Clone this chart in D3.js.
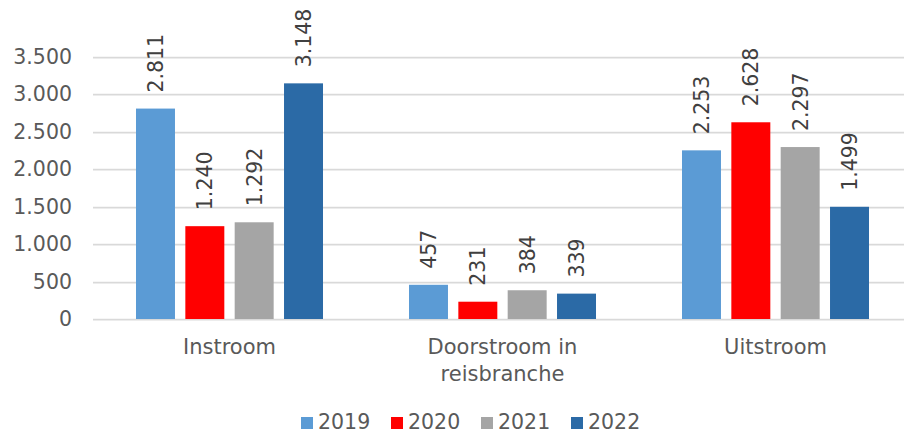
<!DOCTYPE html>
<html>
<head>
<meta charset="utf-8">
<script src="https://cdn.jsdelivr.net/npm/d3@7"></script>
<style>
  html, body { margin: 0; padding: 0; background: #fff; }
  svg { display: block; }
  text { font-family: "DejaVu Sans", Verdana, sans-serif; }
</style>
</head>
<body>
<svg id="chart" width="904" height="433"></svg>
<script>
// Categories, series and values
const categories = ["Instroom", "Doorstroom in\nreisbranche", "Uitstroom"];
const years = ["2019", "2020", "2021", "2022"];
const values2019 = [2811, 457, 2253];
const values2020 = [1240, 231, 2628];
const values2021 = [1292, 384, 2297];
const values2022 = [3148, 339, 1499];
const yTicks = [0, 500, 1000, 1500, 2000, 2500, 3000, 3500];
const colors = ["#5B9BD5", "#FF0000", "#A5A5A5", "#2B6AA6"];

const series = [values2019, values2020, values2021, values2022];

const svg = d3.select("#chart");
const width = 904, height = 433;
const plotLeft = 93, plotRight = 912, plotTop = 57, plotBottom = 319;

// Dutch number format: "." as thousands separator
const nl = d3.formatLocale({ decimal: ",", thousands: ".", grouping: [3], currency: ["€", ""] });
const fmt = nl.format(",d");

const y = d3.scaleLinear().domain([0, 3500]).range([plotBottom, plotTop]);
const x0 = d3.scaleBand().domain(categories).range([plotLeft, plotRight])
  .paddingInner(0.315).paddingOuter(0.1575);
const x1 = d3.scaleBand().domain(years).range([0, x0.bandwidth()])
  .paddingInner(0.21).paddingOuter(0);

// Horizontal gridlines
svg.append("g").selectAll("line").data(yTicks).join("line")
  .attr("x1", plotLeft).attr("x2", width)
  .attr("y1", d => Math.round(y(d)) + 0.5).attr("y2", d => Math.round(y(d)) + 0.5)
  .attr("stroke", "#d9d9d9").attr("stroke-width", 1.75);

// Y axis labels
const yAxis = d3.axisLeft(y).tickValues(yTicks).tickFormat(fmt).tickSize(0).tickPadding(0);
const gy = svg.append("g").attr("transform", "translate(72,0)").call(yAxis);
gy.select(".domain").remove();
gy.selectAll("text").attr("font-size", 20.5).attr("fill", "#595959")
  .attr("font-family", "DejaVu Sans, Verdana, sans-serif");

// Bars
const groups = svg.append("g").selectAll("g").data(categories).join("g")
  .attr("transform", d => `translate(${x0(d)},0)`);

groups.selectAll("rect")
  .data((c, ci) => years.map((yr, si) => ({ yr, si, v: series[si][ci] })))
  .join("rect")
  .attr("x", d => x1(d.yr))
  .attr("y", d => y(d.v))
  .attr("width", x1.bandwidth())
  .attr("height", d => y(0) - y(d.v))
  .attr("fill", d => colors[d.si]);

// Rotated value labels
groups.selectAll("text")
  .data((c, ci) => years.map((yr, si) => ({ yr, si, v: series[si][ci] })))
  .join("text")
  .attr("transform", d => `translate(${x1(d.yr) + x1.bandwidth() / 2},${y(d.v) - 16}) rotate(-90)`)
  .attr("dy", "0.36em")
  .attr("text-anchor", "start")
  .attr("font-size", 20.5)
  .attr("fill", "#404040")
  .text(d => fmt(d.v));

// Category labels
const cat = svg.append("g").selectAll("text").data(categories).join("text")
  .attr("x", d => x0(d) + x0.bandwidth() / 2)
  .attr("y", 354)
  .attr("text-anchor", "middle")
  .attr("font-size", 21)
  .attr("fill", "#595959");
cat.each(function (d) {
  d.split("\n").forEach((line, i) => {
    d3.select(this).append("tspan")
      .attr("x", x0(d) + x0.bandwidth() / 2)
      .attr("dy", i === 0 ? 0 : 27)
      .text(line);
  });
});

// Legend
const legend = svg.append("g").attr("transform", "translate(301,0)");
const items = legend.selectAll("g").data(years).join("g")
  .attr("transform", (d, i) => `translate(${i * 90},0)`);
items.append("rect").attr("x", 0).attr("y", 417).attr("width", 12).attr("height", 12)
  .attr("fill", (d, i) => colors[i]);
items.append("text").attr("x", 17).attr("y", 429)
  .attr("font-size", 20.5).attr("fill", "#595959").text(d => d);
</script>
</body>
</html>
